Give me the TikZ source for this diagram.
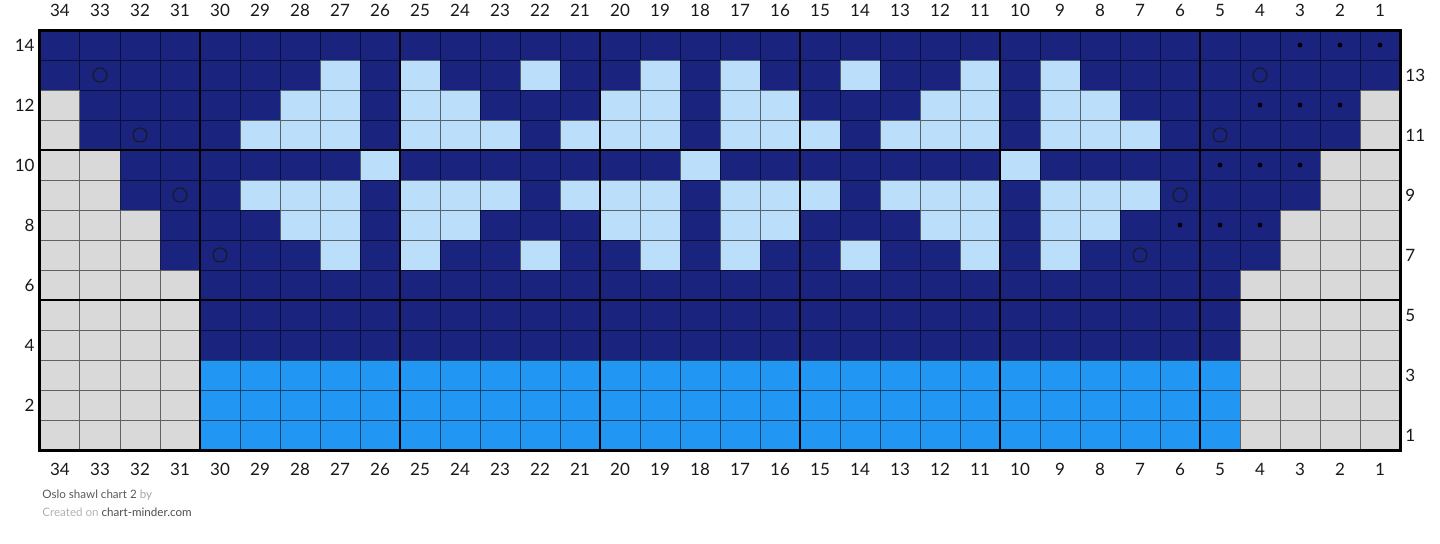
\documentclass[tikz,border=0pt]{standalone}
\usepackage{fontspec}
\setmainfont{Lato}
\definecolor{navy}{HTML}{1A237E}
\definecolor{paleblue}{HTML}{BBDEFB}
\definecolor{brightblue}{HTML}{2196F3}
\definecolor{nostitch}{HTML}{D9D9D9}

\begin{document}
\begin{tikzpicture}[x=20pt,y=15pt,
  numlabel/.style={font=\fontsize{8.5}{10}\selectfont, text=black!90, inner sep=0pt},
  footline/.style={font=\fontsize{5.8}{7}\selectfont, inner sep=0pt, anchor=base west},
  yarnover/.style={draw=black!90, line width=0.5pt},
  purlbump/.style={fill=black}]
\useasboundingbox (-1,-3.1) rectangle (35,15);
\fill[navy] (0,0) rectangle (34,14);
\fill[nostitch] (0,0) rectangle (4,6) (30,0) rectangle (34,6)
  (0,6) rectangle (3,8) (31,6) rectangle (34,8)
  (0,8) rectangle (2,10) (32,8) rectangle (34,10)
  (0,10) rectangle (1,12) (33,10) rectangle (34,12);
\fill[brightblue] (4,0) rectangle (30,3);
\foreach \x in {7,9,12,15,17,20,23,25} {
  \fill[paleblue] (\x,12) rectangle ++(1,1);
  \fill[paleblue] (\x,6) rectangle ++(1,1);
}
\foreach \x in {6,7,9,10,14,15,17,18,22,23,25,26} {
  \fill[paleblue] (\x,11) rectangle ++(1,1);
  \fill[paleblue] (\x,7) rectangle ++(1,1);
}
\foreach \x in {5,9,13,17,21,25} {
  \fill[paleblue] (\x,10) rectangle ++(3,1);
  \fill[paleblue] (\x,8) rectangle ++(3,1);
}
\foreach \x in {8,16,24}
  \fill[paleblue] (\x,9) rectangle ++(1,1);
\draw[black, draw opacity=0.55, line width=0.5pt] (0,0) grid[step={(1,1)}] (34,14);
\draw[line width=1.1pt] (4,0) -- (4,14) (9,0) -- (9,14) (14,0) -- (14,14)
  (19,0) -- (19,14) (24,0) -- (24,14) (29,0) -- (29,14)
  (0,5) -- (34,5) (0,10) -- (34,10);
\draw[line width=1.5pt] (0,0) rectangle (34,14);
\foreach \x/\y in {1.5/12.5, 30.5/12.5, 2.5/10.5, 29.5/10.5,
                   3.5/8.5, 28.5/8.5, 4.5/6.5, 27.5/6.5}
  \draw[yarnover] (\x,\y) circle (3.5pt);
\foreach \k in {0,...,3}
  \foreach \i in {0,1,2}
    \fill[purlbump] (31.5-\k+\i,13.5-2*\k) circle (1.2pt);
\foreach \c in {1,...,34} {
  \node[numlabel] (top\c) at (34.5-\c,14.66) {\c};
  \node[numlabel] (bot\c) at (34.5-\c,-0.64) {\c};
}
\foreach \r in {2,4,...,14}
  \node[numlabel, anchor=east] (left\r) at (-0.125,\r-0.5) {\r};
\foreach \r in {1,3,...,13}
  \node[numlabel, anchor=west] (right\r) at (34.125,\r-0.5) {\r};
\node[footline] (title) at (0.05,-1.63) {\textcolor{black!65}{Oslo shawl chart 2} \textcolor{black!35}{by}};
\node[footline] (credit) at (0.05,-2.2) {\textcolor{black!30}{Created on} \textcolor{black!70}{chart-minder.com}};
\end{tikzpicture}
\end{document}
